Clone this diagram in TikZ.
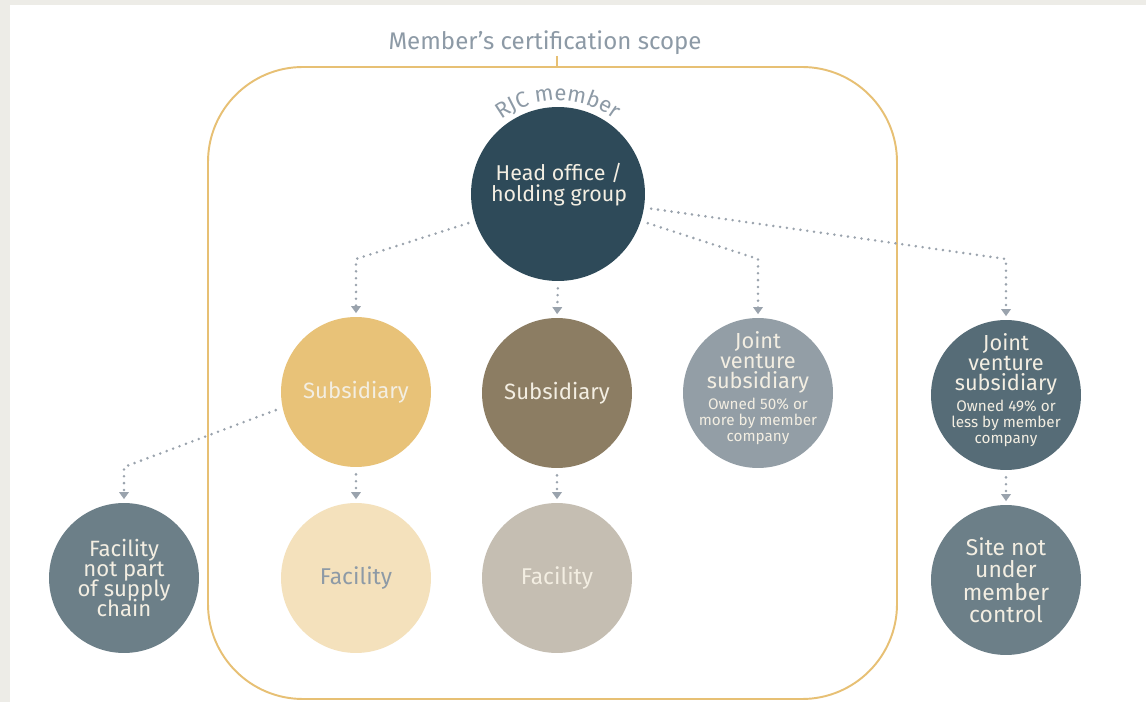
\documentclass[tikz,border=0pt]{standalone}
\usepackage{fontspec}
\setmainfont{Fira Sans}
\usetikzlibrary{arrows.meta,decorations.text}

\definecolor{pagegray}{HTML}{EDECE7}
\definecolor{scopegold}{HTML}{E7C074}
\definecolor{titlegray}{HTML}{8D9AA6}
\definecolor{linkgray}{HTML}{9AA3AD}
\definecolor{cream}{HTML}{F3EEE2}
\definecolor{headblue}{HTML}{2E4A59}
\definecolor{subgold}{HTML}{E8C278}
\definecolor{subbrown}{HTML}{8C7D63}
\definecolor{jvlight}{HTML}{939EA6}
\definecolor{jvdark}{HTML}{566C77}
\definecolor{facgold}{HTML}{F4E1BC}
\definecolor{facbrown}{HTML}{C5BEB2}
\definecolor{outgray}{HTML}{6C7F88}

\newcommand{\bubblefont}[2]{\fontsize{#1}{#2}\selectfont\lineskiplimit=-20pt\relax}
\newcommand{\notefont}{\fontsize{8.7}{9}\selectfont}

\begin{document}
\begin{tikzpicture}[x=0.02cm, y=-0.02cm,
  bubble/.style={circle, minimum size=3cm, inner sep=0pt, text=cream, align=center,
    font=\bubblefont{12.6}{11.8}},
  inside/.style={text=cream, align=center, inner sep=0pt},
  link/.style={draw=linkgray, line width=1.6pt, line cap=round,
    dash pattern=on 0pt off 3.9pt, shorten <=4pt, shorten >=2pt,
    -{Triangle[width=5.4pt,length=4pt]}}]

\useasboundingbox (0,0) rectangle (1146,702);
\fill[pagegray] (0,0) rectangle (1146,702);
\fill[white] (10,5) rectangle (1146,702);

% certification scope
\draw[scopegold, line width=1.1pt, rounded corners=1.9cm] (208,67) rectangle (897,699);
\draw[scopegold, line width=1.1pt] (557,56) -- (557,67);
\node[text=titlegray, font=\fontsize{13.7}{14}\selectfont] (scope) at (545,43) {Member’s certification scope};

% member
\node[bubble, fill=headblue, minimum size=3.48cm] (head) at (558,194) {};
\node[inside, font=\bubblefont{12.2}{12}] (headtext) at (559,185) {Head office /\\holding group};
\path[decorate, decoration={text along path, text align=center,
  text={|\color{titlegray}\fontsize{12.5}{12}\selectfont|RJC member}}]
  (head.center) ++(140:1.87cm) arc[start angle=140, end angle=40, radius=1.87cm];

% second row
\node[bubble, fill=subgold] (sub1) at (356,392) {Subsidiary};
\node[bubble, fill=subbrown] (sub2) at (557,393) {Subsidiary};
\node[bubble, fill=jvlight] (jv1) at (758,393) {};
\node[inside, font=\bubblefont{12.4}{11.6}] (jv1text) at (758,388) {Joint\\venture\\subsidiary\\[0.4pt]{\notefont Owned 50\% or}\\[-2.6pt]{\notefont more by member}\\[-2.6pt]{\notefont company}};
\node[bubble, fill=jvdark] (jv2) at (1006,395) {};
\node[inside, font=\bubblefont{12.4}{11.6}] (jv2text) at (1006,390) {Joint\\venture\\subsidiary\\[0.4pt]{\notefont Owned 49\% or}\\[-2.6pt]{\notefont less by member}\\[-2.6pt]{\notefont company}};

% third row
\node[bubble, fill=outgray, font=\bubblefont{12.6}{11.3}] (fac0) at (124,578) {Facility\\not part\\of supply\\chain};
\node[bubble, fill=facgold, text=titlegray, font=\bubblefont{13}{12}] (fac1) at (356,578) {Facility};
\node[bubble, fill=facbrown, font=\bubblefont{13}{12}] (fac2) at (557,578) {Facility};
\node[bubble, fill=outgray, font=\bubblefont{13}{12.8}] (site) at (1006,580) {Site not\\under\\member\\control};

% bends
\coordinate (bsub1) at (356,259);
\coordinate (bjv1) at (758,259);
\coordinate (bjv2) at (1006,259);
\coordinate (bfac0) at (124,467);

% links
\draw[link] (head.198) -- (bsub1) -- (sub1.north);
\draw[link] (head.south) -- (sub2.north);
\draw[link] (head.342) -- (bjv1) -- (jv1.north);
\draw[link] (head.351) -- (bjv2) -- (jv2.north);
\draw[link] (sub1.192) -- (bfac0) -- (fac0.north);
\draw[link] (sub1.south) -- (fac1.north);
\draw[link] (sub2.south) -- (fac2.north);
\draw[link] (jv2.south) -- (site.north);

\end{tikzpicture}
\end{document}
